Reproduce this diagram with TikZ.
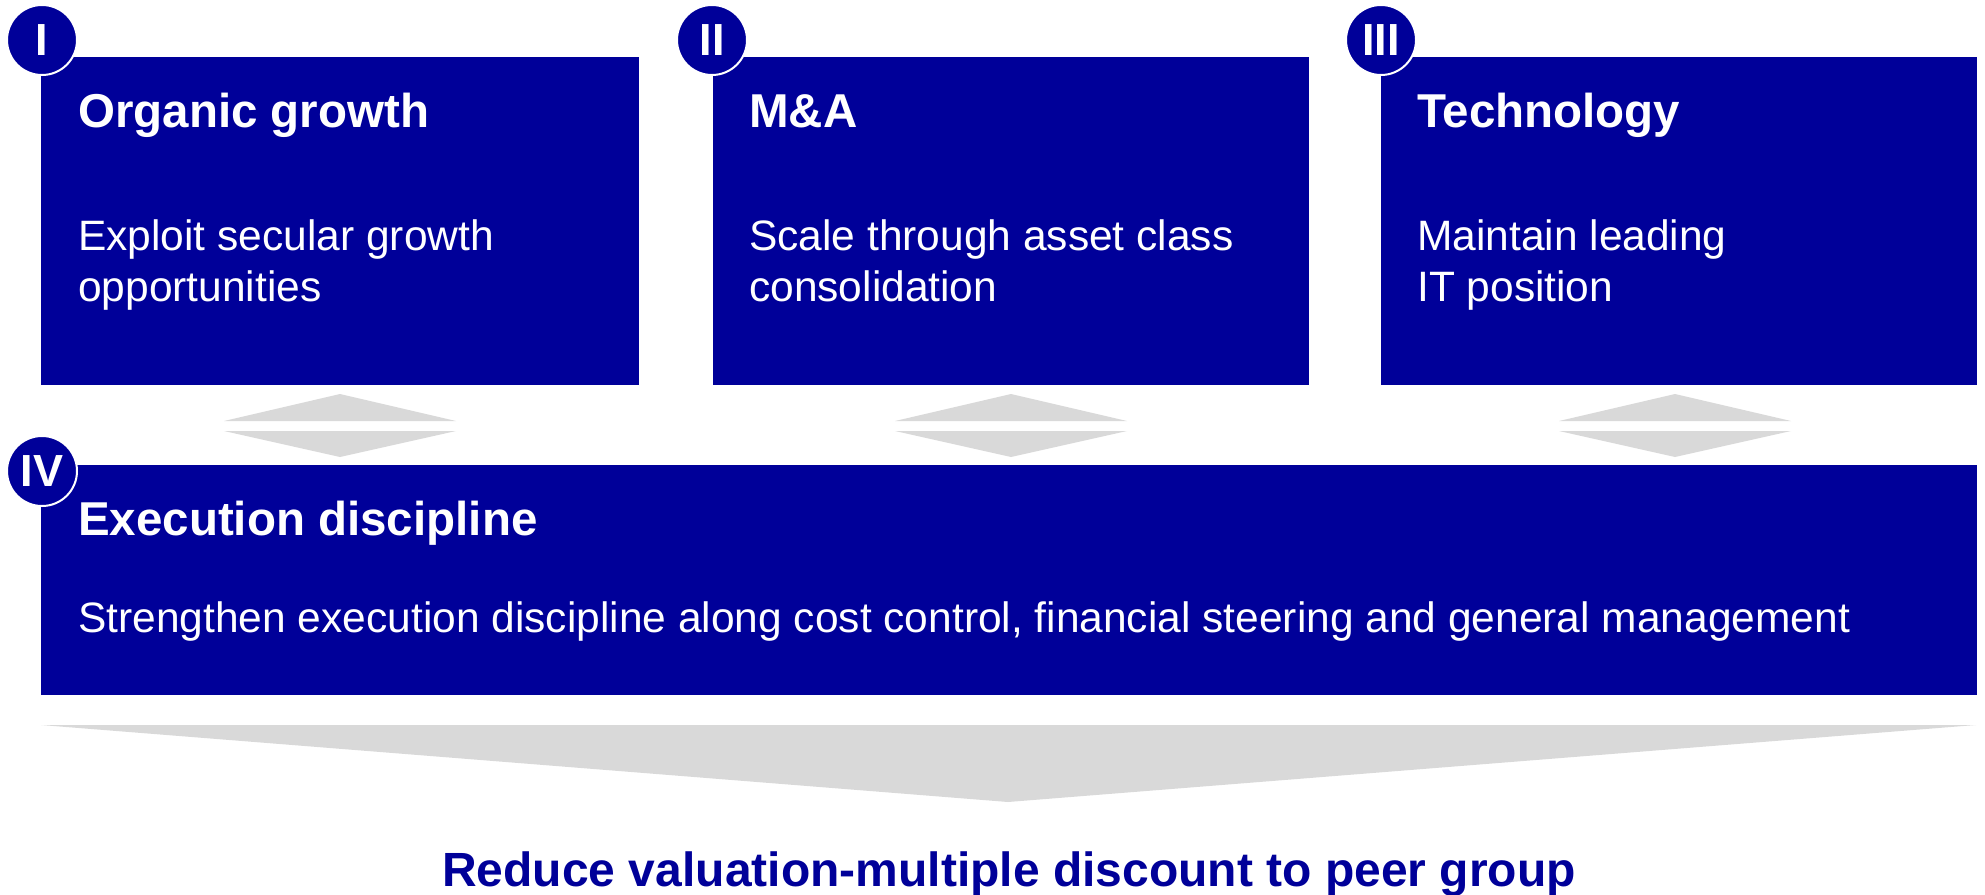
\documentclass[tikz,border=0pt]{standalone}
\usepackage{fontspec}
\setmainfont{Liberation Sans}
\definecolor{boxblue}{RGB}{0,0,153}
\definecolor{arrgray}{RGB}{217,217,217}
\begin{document}
\begin{tikzpicture}[x=1pt,y=-1pt,
  bluebox/.style={draw=none,fill=boxblue,rectangle,inner sep=0pt,anchor=north west},
  badge/.style={circle,fill=boxblue,draw=white,line width=2pt,minimum size=70pt,inner sep=0pt,text=white,font=\fontsize{45}{45}\selectfont\bfseries},
  titletext/.style={anchor=base west,inner sep=0pt,text=white,font=\fontsize{47.5}{56}\selectfont\bfseries},
  bodytext/.style={anchor=base west,inner sep=0pt,text=white,font=\fontsize{42.5}{50}\selectfont},
  grayarrow/.style={fill=arrgray,draw=none}
]
\useasboundingbox (0,0) rectangle (1985,894);

% boxes
\node[bluebox,minimum width=598pt,minimum height=328pt] (b1) at (41,57) {};
\node[bluebox,minimum width=596pt,minimum height=328pt] (b2) at (713,57) {};
\node[bluebox,minimum width=596pt,minimum height=328pt] (b3) at (1381,57) {};
\node[bluebox,minimum width=1936pt,minimum height=230pt] (b4) at (41,465) {};

% badges
\node[badge] (c1) at (42,40) {I};
\node[badge] (c2) at (712,40) {II};
\node[badge] (c3) at (1381,40) {III};
\node[badge] (c4) at (42,471) {IV};

% texts
\node[titletext] (t1) at (78,127) {Organic growth};
\node[bodytext] (t1a) at (78,250) {Exploit secular growth};
\node[bodytext] (t1b) at (78,301) {opportunities};

\node[titletext] (t2) at (749,127) {M\&A};
\node[bodytext] (t2a) at (749,250) {Scale through asset class};
\node[bodytext] (t2b) at (749,301) {consolidation};

\node[titletext] (t3) at (1417,127) {Technology};
\node[bodytext] (t3a) at (1417,250) {Maintain leading};
\node[bodytext] (t3b) at (1417,301) {IT position};

\node[titletext] (t4) at (78,535) {Execution discipline};
\node[bodytext] (t4a) at (78,632) {Strengthen execution discipline along cost control, financial steering and general management};

% double arrows
\foreach \cx in {340,1011,1675}{
  \fill[grayarrow] (\cx-116,421) -- (\cx,394) -- (\cx+116,421) -- cycle;
  \fill[grayarrow] (\cx-116,431) -- (\cx,457) -- (\cx+116,431) -- cycle;
}

% bottom arrow
\fill[grayarrow] (41,725) -- (1976,725) -- (1008,802) -- cycle;

\node[anchor=base,inner sep=0pt,text=boxblue,font=\fontsize{48}{56}\selectfont\bfseries] (res) at (1009,886) {Reduce valuation-multiple discount to peer group};
\end{tikzpicture}
\end{document}
